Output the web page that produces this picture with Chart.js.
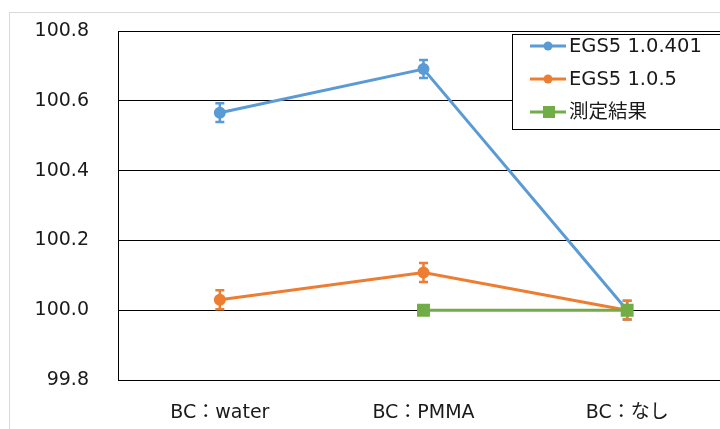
<!DOCTYPE html>
<html lang="ja">
<head>
  <meta charset="UTF-8" />
  <title>EGS5 比較</title>
  <script src="https://cdn.jsdelivr.net/npm/chart.js"></script>
  <style>
    html, body { margin: 0; padding: 0; overflow: hidden; background: #fff; }
    #frame { position: absolute; left: 9px; top: 12px; width: 800px; height: 500px; border: 1px solid #d9d9d9; }
    #wrap { position: absolute; left: 0; top: 0; width: 740px; height: 429px; }
  </style>
</head>
<body>
  <div id="frame"></div>
  <div id="wrap"><canvas id="chart"></canvas></div>

  <script>
    const categories = ['BC：water', 'BC：PMMA', 'BC：なし'];
    const yTicks = [99.8, 100.0, 100.2, 100.4, 100.6, 100.8];

    const egs401 = [100.566, 100.691, 100.000];
    const egs401Err = [0.027, 0.026, 0.027];
    const egs105 = [100.030, 100.108, 100.000];
    const egs105Err = [0.027, 0.027, 0.027];
    const measured = [null, 100.000, 100.000];

    Chart.defaults.font.family = "'DejaVu Sans', 'Noto Sans CJK JP', sans-serif";
    Chart.defaults.font.size = 19;
    Chart.defaults.color = '#1a1a1a';

    // error bars, drawn right after their own dataset so the layering follows the lines
    const errorBars = {
      id: 'errorBars',
      afterDatasetDraw(chart, args) {
        const ds = chart.data.datasets[args.index];
        if (!ds.errors) return;
        const meta = args.meta;
        const y = chart.scales.y;
        const ctx = chart.ctx;
        ctx.save();
        ctx.strokeStyle = ds.borderColor;
        ctx.lineWidth = 2.5;
        meta.data.forEach((pt, i) => {
          const v = ds.data[i];
          if (v == null) return;
          const top = y.getPixelForValue(v + ds.errors[i]);
          const bot = y.getPixelForValue(v - ds.errors[i]);
          ctx.beginPath();
          ctx.moveTo(pt.x, top); ctx.lineTo(pt.x, bot);
          ctx.moveTo(pt.x - 4.5, top); ctx.lineTo(pt.x + 4.5, top);
          ctx.moveTo(pt.x - 4.5, bot); ctx.lineTo(pt.x + 4.5, bot);
          ctx.stroke();
        });
        ctx.restore();
      }
    };

    // Excel style legend box in the upper right
    const boxLegend = {
      id: 'boxLegend',
      afterDraw(chart) {
        const ctx = chart.ctx;
        ctx.save();
        ctx.fillStyle = '#fff';
        ctx.strokeStyle = '#000';
        ctx.lineWidth = 1;
        ctx.fillRect(512, 34, 300, 95);
        ctx.strokeRect(512.5, 34.5, 300, 95);
        const rows = [46, 79, 112];
        ctx.font = "19.5px 'DejaVu Sans', 'Noto Sans CJK JP', sans-serif";
        ctx.textBaseline = 'middle';
        chart.data.datasets.forEach((ds, i) => {
          const yy = rows[i];
          ctx.strokeStyle = ds.borderColor;
          ctx.lineWidth = 3;
          ctx.beginPath();
          ctx.moveTo(530, yy); ctx.lineTo(566, yy);
          ctx.stroke();
          ctx.fillStyle = ds.borderColor;
          if (ds.pointStyle === 'rect') {
            ctx.fillRect(543, yy - 6, 12, 12);
          } else {
            ctx.beginPath();
            ctx.arc(548, yy, 4.5, 0, Math.PI * 2);
            ctx.fill();
          }
          ctx.fillStyle = '#1a1a1a';
          ctx.fillText(ds.label, 569, yy + 1);
        });
        ctx.restore();
      }
    };

    new Chart(document.getElementById('chart'), {
      type: 'line',
      data: {
        labels: categories,
        datasets: [
          {
            label: 'EGS5 1.0.401',
            data: egs401,
            errors: egs401Err,
            borderColor: '#5b9bd5',
            backgroundColor: '#5b9bd5',
            borderWidth: 3,
            pointRadius: 4.5,
            pointStyle: 'circle',
            order: 2
          },
          {
            label: 'EGS5 1.0.5',
            data: egs105,
            errors: egs105Err,
            borderColor: '#ed7d31',
            backgroundColor: '#ed7d31',
            borderWidth: 3,
            pointRadius: 4.5,
            pointStyle: 'circle',
            order: 1
          },
          {
            label: '測定結果',
            data: measured,
            borderColor: '#70ad47',
            backgroundColor: '#70ad47',
            borderWidth: 3,
            pointRadius: 7,
            pointStyle: 'rect',
            order: 0
          }
        ]
      },
      options: {
        responsive: true,
        maintainAspectRatio: false,
        animation: false,
        layout: { padding: { top: 31, right: 11, bottom: 0, left: 0 } },
        scales: {
          x: {
            offset: true,
            grid: { display: false, drawTicks: false },
            border: { display: true, color: '#000', width: 1 },
            ticks: { padding: 22, color: '#1a1a1a' },
            afterFit(scale) { scale.height = 49; }
          },
          y: {
            min: yTicks[0],
            max: yTicks[yTicks.length - 1],
            afterBuildTicks(scale) { scale.ticks = yTicks.map(v => ({ value: v })); },
            // invisible tick marks push labels away from the axis without adding top padding
            grid: { color: '#000', lineWidth: 1, drawTicks: true, tickLength: 29, tickColor: 'rgba(0,0,0,0)' },
            border: { display: true, color: '#000', width: 1 },
            ticks: { padding: 0, color: '#1a1a1a', callback: v => Number(v).toFixed(1) },
            afterFit(scale) { scale.width = 118; }
          }
        },
        plugins: {
          legend: { display: false },
          tooltip: { enabled: false }
        }
      },
      plugins: [errorBars, boxLegend]
    });
  </script>
</body>
</html>
